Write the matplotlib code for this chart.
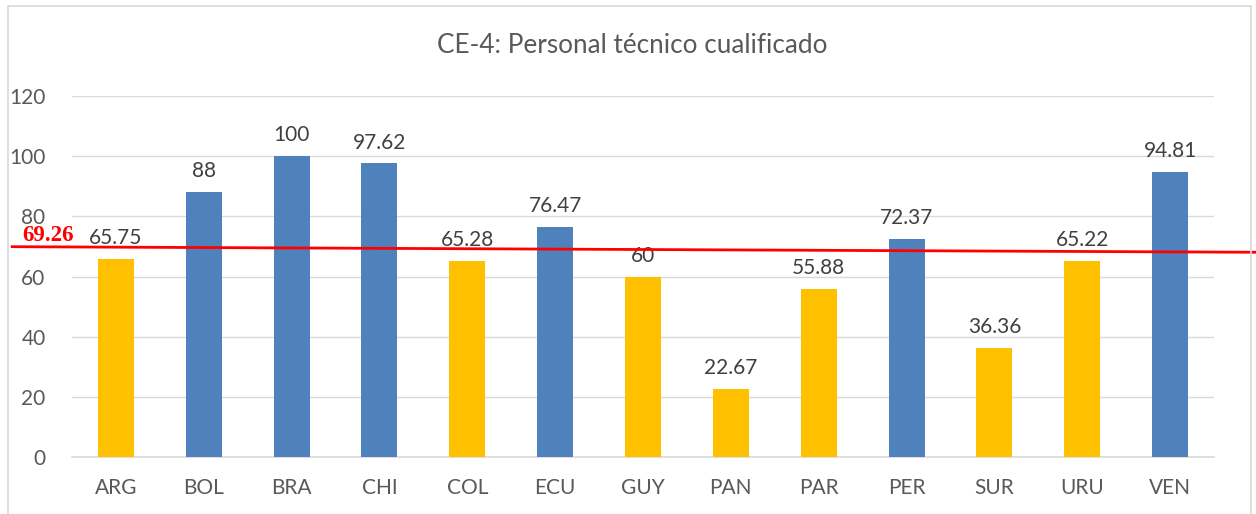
import matplotlib.pyplot as plt
from matplotlib.patches import Rectangle

paises = ['ARG', 'BOL', 'BRA', 'CHI', 'COL', 'ECU', 'GUY', 'PAN', 'PAR', 'PER', 'SUR', 'URU', 'VEN']
valores = [65.75, 88, 100, 97.62, 65.28, 76.47, 60, 22.67, 55.88, 72.37, 36.36, 65.22, 94.81]
etiquetas = ['65.75', '88', '100', '97.62', '65.28', '76.47', '60', '22.67', '55.88', '72.37', '36.36', '65.22', '94.81']
promedio = 69.26
yticks = [0, 20, 40, 60, 80, 100, 120]

amarillo = '#FFC000'
azul = '#4F81BD'
gris = '#595959'
fuente = 'Lato'

fig = plt.figure(figsize=(12.56, 5.14), dpi=100)
ax = fig.add_axes([0.0573, 0.1109, 0.9093, 0.7023])

x = list(range(len(paises)))
colores = [azul if v > promedio else amarillo for v in valores]
ax.bar(x, valores, width=0.41, color=colores, zorder=3)

for xi, v, t in zip(x, valores, etiquetas):
    ax.text(xi, v + 3.6, t, ha='center', va='bottom', fontsize=15,
            color='#404040', family=fuente, zorder=4)

ax.set_xlim(-0.5, 12.5)
ax.set_ylim(0, 120)
ax.set_yticks(yticks)
ax.set_xticks(x)
ax.set_xticklabels(paises)
ax.grid(axis='y', color='#D9D9D9', linewidth=1, zorder=0)
for s in ['top', 'right', 'left']:
    ax.spines[s].set_visible(False)
ax.spines['bottom'].set_color('#D9D9D9')
ax.spines['bottom'].set_linewidth(1.2)
ax.tick_params(length=0, labelsize=15, colors=gris, pad=15)
ax.tick_params(axis='y', pad=19)
for lab in ax.get_xticklabels() + ax.get_yticklabels():
    lab.set_family(fuente)

# linea del promedio (ligeramente inclinada como en el original)
ax.plot([-1.18, 12.98], [promedio + 0.65, promedio - 1.2], color='red',
        linewidth=2, clip_on=False, zorder=5)
ax.text(-1.07, promedio + 0.9, '69.26', color='red', fontsize=16.5, fontweight='bold',
        family='Liberation Serif', ha='left', va='bottom', clip_on=False, zorder=6)

fig.text(0.503, 0.912, 'CE-4: Personal técnico cualificado', ha='center', va='center',
         fontsize=18.8, color=gris, family=fuente)

fig.patches.append(Rectangle((8 / 1256, -0.01), (1251 - 8) / 1256, 1 - 6 / 514 + 0.01,
                             transform=fig.transFigure, fill=False,
                             edgecolor='#D9D9D9', linewidth=1.2))

fig.savefig('out.png', dpi=100)
